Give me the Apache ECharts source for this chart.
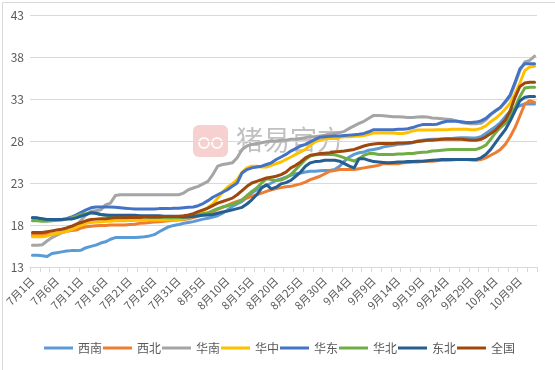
<!DOCTYPE html>
<html><head><meta charset="utf-8">
<script src="https://cdn.jsdelivr.net/npm/echarts@6/dist/echarts.min.js"></script>
<style>html,body{margin:0;padding:0;background:#fff}#c{width:555px;height:370px}</style>
</head><body><div id="c"></div>
<script>
// categories: 7月1日 .. 10月12日 (daily)
const monthDays = [["7", 31], ["8", 31], ["9", 30], ["10", 12]];
const categories = [];
monthDays.forEach(([m, n]) => { for (let d = 1; d <= n; d++) categories.push(m + "月" + d + "日"); });

const seriesNames = ["西南", "西北", "华南", "华中", "华东", "华北", "东北", "全国"];
const colors = ["#5B9BD5", "#ED7D31", "#A5A5A5", "#FFC000", "#4472C4", "#70AD47", "#255E91", "#9E480E"];
const yTicks = [13, 18, 23, 28, 33, 38, 43];

const xinan = [14.4,14.4,14.35,14.25,14.6,14.7,14.8,14.9,14.95,14.95,15.0,15.3,15.45,15.6,15.85,16.0,16.3,16.5,16.5,16.5,16.5,16.5,16.55,16.6,16.7,16.85,17.2,17.5,17.8,17.95,18.05,18.2,18.3,18.4,18.55,18.7,18.8,18.95,19.1,19.4,19.8,20.2,20.5,20.8,21.3,21.8,22.2,22.5,22.7,23.0,23.3,23.5,23.7,23.9,24.1,24.2,24.3,24.4,24.4,24.45,24.5,24.5,24.6,25.0,25.6,26.1,26.4,26.6,26.7,26.9,27.0,27.1,27.3,27.4,27.5,27.6,27.65,27.7,27.8,28.0,28.1,28.15,28.2,28.2,28.25,28.3,28.3,28.35,28.4,28.4,28.35,28.35,28.5,28.9,29.3,29.7,30.2,30.9,31.5,31.9,32.2,32.4,32.4,32.4];
const xibei = [16.85,16.85,16.85,16.9,16.95,17.0,17.1,17.25,17.35,17.4,17.65,17.8,17.85,17.9,17.95,17.95,18.0,18.0,18.0,18.0,18.05,18.1,18.2,18.25,18.3,18.35,18.4,18.45,18.5,18.55,18.6,18.65,18.75,18.9,19.05,19.2,19.4,19.6,19.85,20.1,20.35,20.6,20.8,21.0,21.2,21.4,21.6,21.8,22.0,22.2,22.35,22.45,22.55,22.6,22.75,22.9,23.1,23.4,23.6,23.8,24.1,24.4,24.5,24.6,24.6,24.6,24.6,24.7,24.8,24.9,25.0,25.1,25.3,25.3,25.3,25.3,25.4,25.45,25.5,25.5,25.55,25.6,25.6,25.65,25.7,25.7,25.75,25.8,25.8,25.8,25.75,25.7,25.8,26.0,26.3,26.6,27.0,27.6,28.5,29.6,31.0,32.4,32.8,32.6];
const huanan = [15.6,15.6,15.65,16.1,16.5,16.8,17.05,17.3,17.5,18.0,18.6,19.2,19.6,19.7,19.8,20.4,20.6,21.5,21.6,21.6,21.6,21.6,21.6,21.6,21.6,21.6,21.6,21.6,21.6,21.6,21.6,21.8,22.2,22.4,22.6,22.9,23.2,24.0,25.0,25.2,25.3,25.4,26.0,27.0,27.4,27.6,27.7,27.8,27.9,28.0,28.0,28.1,28.1,28.2,28.2,28.3,28.4,28.5,28.5,28.6,28.7,28.8,28.9,29.0,29.15,29.5,29.8,30.1,30.35,30.7,31.05,31.05,31.0,30.95,30.9,30.9,30.85,30.8,30.8,30.85,30.9,30.85,30.75,30.7,30.65,30.6,30.55,30.4,30.2,30.1,30.05,30.05,30.1,30.5,31.1,31.6,32.0,32.6,33.3,34.8,36.4,37.4,37.6,38.1];
const huazhong = [16.6,16.6,16.6,16.7,16.9,17.0,17.1,17.25,17.45,17.7,18.0,18.2,18.3,18.35,18.4,18.45,18.45,18.5,18.5,18.5,18.55,18.55,18.6,18.6,18.6,18.6,18.6,18.6,18.6,18.6,18.65,18.75,18.85,19.05,19.3,19.6,20.1,20.5,21.2,21.9,22.5,22.9,23.4,24.3,24.8,25.0,25.0,24.9,24.9,25.1,25.3,25.5,25.8,26.1,26.4,26.7,27.0,27.5,27.9,28.1,28.25,28.35,28.4,28.45,28.5,28.5,28.55,28.6,28.65,28.8,28.95,28.95,28.95,28.95,28.95,28.9,28.9,29.0,29.2,29.3,29.3,29.3,29.3,29.35,29.35,29.35,29.4,29.4,29.4,29.4,29.35,29.35,29.5,29.8,30.3,30.7,31.2,31.8,32.5,33.6,34.9,36.4,36.8,36.9];
const huadong = [18.85,18.8,18.7,18.6,18.55,18.6,18.65,18.75,18.95,19.2,19.5,19.8,20.05,20.15,20.15,20.15,20.15,20.1,20.05,20.0,19.95,19.9,19.9,19.9,19.9,19.9,19.95,19.95,19.95,20.0,20.0,20.05,20.1,20.15,20.3,20.55,20.9,21.3,21.6,21.9,22.2,22.6,23.0,24.2,24.6,24.8,24.9,25.0,25.2,25.4,25.8,26.1,26.4,26.8,27.1,27.4,27.6,27.9,28.2,28.45,28.5,28.55,28.6,28.6,28.65,28.7,28.75,28.8,28.9,29.1,29.35,29.35,29.35,29.35,29.35,29.4,29.4,29.45,29.6,29.8,29.95,29.95,29.95,30.0,30.2,30.35,30.35,30.35,30.3,30.2,30.2,30.25,30.4,30.7,31.2,31.6,32.0,32.7,33.5,35.0,36.6,37.2,37.2,37.2];
const huabei = [18.5,18.5,18.45,18.45,18.5,18.55,18.6,18.7,18.85,19.05,19.25,19.35,19.5,19.4,19.25,19.15,19.05,19.05,19.0,19.0,19.0,18.95,18.95,18.95,18.9,18.9,18.9,18.9,18.85,18.85,18.85,18.9,19.0,19.05,19.2,19.35,19.45,19.7,19.95,20.15,20.3,20.45,20.65,21.0,21.5,22.0,22.4,23.0,23.5,23.4,23.3,23.35,23.6,24.0,24.6,25.2,25.8,26.2,26.35,26.4,26.4,26.4,26.35,26.2,26.0,25.8,25.6,25.9,26.3,26.5,26.5,26.4,26.4,26.4,26.4,26.45,26.45,26.5,26.5,26.6,26.65,26.7,26.8,26.85,26.9,26.95,27.0,27.0,27.0,27.0,27.0,27.0,27.2,27.5,28.2,29.0,29.6,30.1,30.9,32.0,33.3,34.3,34.4,34.4];
const dongbei = [18.85,18.85,18.75,18.65,18.65,18.65,18.65,18.7,18.7,18.85,19.05,19.25,19.45,19.4,19.25,19.2,19.15,19.15,19.15,19.15,19.15,19.15,19.1,19.1,19.1,19.1,19.1,19.05,19.05,19.05,19.0,18.95,18.95,19.0,19.1,19.15,19.2,19.25,19.4,19.55,19.65,19.8,19.95,20.1,20.5,21.0,21.6,22.4,22.8,22.3,22.5,22.9,23.05,23.3,23.8,24.3,25.0,25.4,25.55,25.6,25.7,25.7,25.7,25.6,25.3,25.0,24.8,25.9,25.9,25.7,25.55,25.5,25.45,25.4,25.45,25.5,25.5,25.55,25.55,25.6,25.6,25.65,25.7,25.75,25.8,25.8,25.8,25.8,25.8,25.8,25.8,25.8,26.0,26.4,27.0,27.8,28.6,29.35,30.4,31.6,32.8,33.2,33.3,33.3];
const quanguo = [17.1,17.1,17.1,17.2,17.3,17.4,17.5,17.65,17.85,18.1,18.3,18.5,18.65,18.7,18.75,18.75,18.8,18.85,18.85,18.85,18.9,18.9,18.9,18.95,18.95,18.95,18.95,19.0,19.0,19.0,19.05,19.1,19.2,19.35,19.6,19.8,20.0,20.3,20.6,20.8,21.0,21.2,21.6,22.1,22.6,23.0,23.2,23.4,23.6,23.7,23.8,24.0,24.3,24.8,25.1,25.5,26.0,26.3,26.4,26.5,26.55,26.6,26.7,26.75,26.8,26.9,27.0,27.2,27.4,27.55,27.65,27.7,27.7,27.7,27.7,27.75,27.75,27.8,27.85,27.95,28.0,28.1,28.1,28.15,28.2,28.2,28.2,28.2,28.2,28.15,28.1,28.1,28.2,28.5,28.9,29.3,29.9,30.5,31.6,33.2,34.5,34.9,35.0,35.0];

const values = [xinan, xibei, huanan, huazhong, huadong, huabei, dongbei, quanguo];
const FONT = '"Noto Sans CJK SC", "Microsoft YaHei", sans-serif';

const chart = echarts.init(document.getElementById('c'), null, {renderer: 'canvas'});
chart.setOption({
  animation: false,
  backgroundColor: '#ffffff',
  color: colors,
  textStyle: {fontFamily: FONT},
  grid: {left: 30, right: 18, top: 15, bottom: 103, containLabel: false},
  graphic: [
    {type: 'rect', left: 0, top: 0, z: -10, shape: {x: 0.5, y: 0.5, width: 554, height: 369}, style: {fill: 'none', stroke: '#d9d9d9', lineWidth: 1}, silent: true},
    {type: 'rect', z: -5, silent: true, shape: {x: 193, y: 125, width: 35, height: 32, r: 6}, style: {fill: 'rgba(232,120,120,0.35)'}},
    {type: 'circle', z: -4, silent: true, shape: {cx: 204, cy: 143, r: 5}, style: {fill: 'none', stroke: 'rgba(255,255,255,0.9)', lineWidth: 2}},
    {type: 'circle', z: -4, silent: true, shape: {cx: 217, cy: 143, r: 5}, style: {fill: 'none', stroke: 'rgba(255,255,255,0.9)', lineWidth: 2}},
    {type: 'text', z: -5, silent: true, x: 236, y: 126, style: {text: '猪易官方', fill: 'rgba(150,150,150,0.6)', font: '27px "Noto Sans CJK SC", serif'}}
  ],
  legend: {
    data: seriesNames,
    left: 44, top: 342, padding: 0,
    itemWidth: 29, itemHeight: 3, itemGap: 1,
    icon: 'rect',
    textStyle: {color: '#595959', fontSize: 12, fontFamily: FONT}
  },
  xAxis: {
    type: 'category',
    data: categories,
    boundaryGap: true,
    axisLine: {lineStyle: {color: '#d9d9d9', width: 1}},
    axisTick: {show: true, interval: 1, length: 5, lineStyle: {color: '#d9d9d9'}},
    axisLabel: {interval: 4, rotate: 45, margin: 12, color: '#595959', fontSize: 11, fontFamily: FONT},
    splitLine: {show: false}
  },
  yAxis: {
    type: 'value',
    min: 13, max: 43, interval: 5,
    axisLine: {show: false},
    axisTick: {show: false},
    axisLabel: {color: '#595959', fontSize: 12, margin: 6, fontFamily: FONT},
    splitLine: {lineStyle: {color: '#d9d9d9', width: 1}}
  },
  series: seriesNames.map((n, k) => ({
    name: n, type: 'line', data: values[k],
    showSymbol: false, symbol: 'none',
    lineStyle: {width: 3, color: colors[k], cap: 'round', join: 'round'},
    itemStyle: {color: colors[k]},
    z: 2 + k
  }))
});
</script></body></html>
